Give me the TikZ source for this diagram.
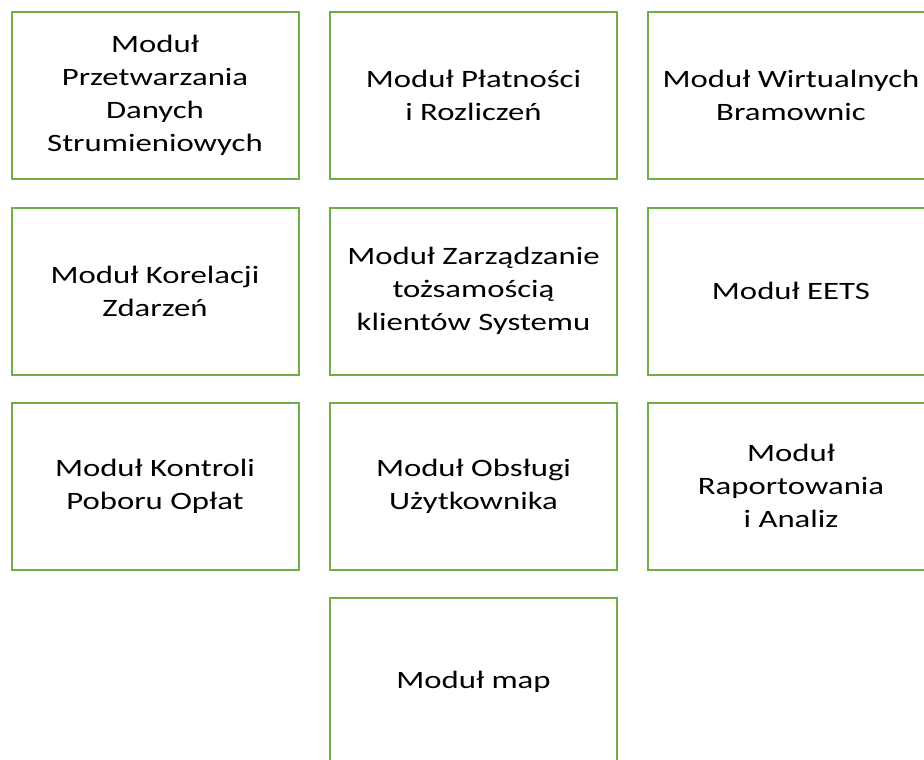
\documentclass[tikz,border=0pt]{standalone}
\usepackage{fontspec}
\setmainfont[FakeStretch=1.31]{Carlito}
\usepackage{xcolor}
\definecolor{modgreen}{HTML}{70AD47}

\begin{document}
\begin{tikzpicture}[x=1pt, y=-1pt,
  modul/.style={draw=modgreen, line width=2pt, minimum width=287pt, minimum height=167pt,
    inner sep=0pt, align=center, font=\fontsize{25}{33}\selectfont}]
\useasboundingbox (0,0) rectangle (924,760);
\clip (0,0) rectangle (924,760);
% row 1
\node[modul] (przetw) at (155,95.5) {Moduł\\Przetwarzania\\Danych\\Strumieniowych};
\node[modul] (platn) at (473.5,95.5) {Moduł Płatności\\i Rozliczeń};
\node[modul] (bramow) at (791,95.5) {Moduł Wirtualnych\\Bramownic};
% row 2
\node[modul] (korel) at (155,291) {Moduł Korelacji\\Zdarzeń};
\node[modul] (tozsam) at (473.5,291) {Moduł Zarządzanie\\tożsamością\\klientów Systemu};
\node[modul] (eets) at (791,291) {Moduł EETS};
% row 3
\node[modul] (kontr) at (155,486) {Moduł Kontroli\\Poboru Opłat};
\node[modul] (obsl) at (473.5,486) {Moduł Obsługi\\Użytkownika};
\node[modul] (raport) at (791,486) {Moduł\\Raportowania\\i Analiz};
% row 4
\node[modul] (mapy) at (473.5,681.5) {Moduł map};
\end{tikzpicture}
\end{document}
